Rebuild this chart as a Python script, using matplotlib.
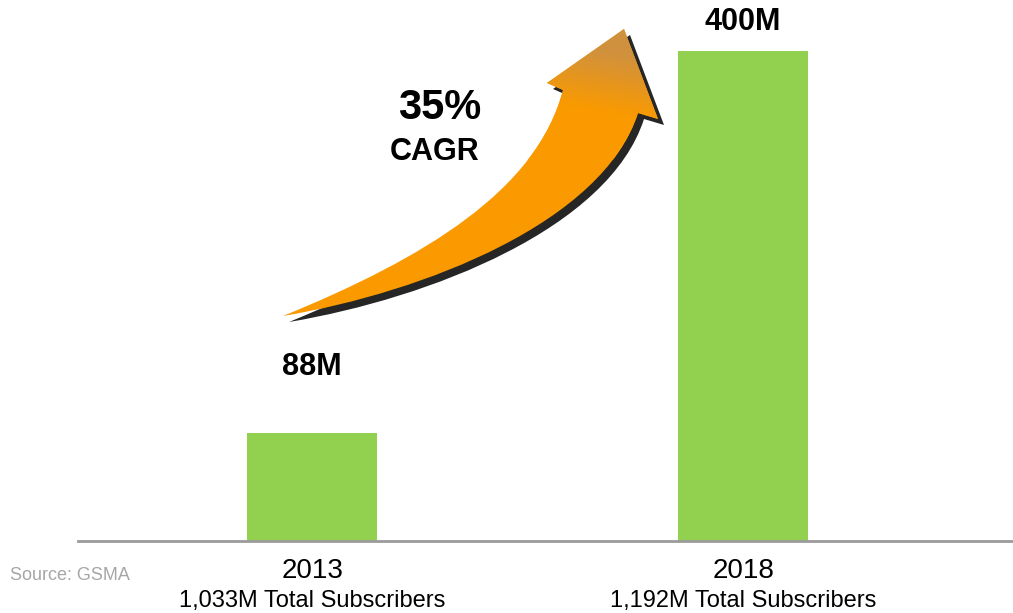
import numpy as np
import matplotlib
matplotlib.use("Agg")
import matplotlib.pyplot as plt
from matplotlib.path import Path
from matplotlib.patches import PathPatch
from matplotlib.colors import LinearSegmentedColormap

plt.rcParams['font.family'] = ['Liberation Sans', 'DejaVu Sans']

years = ["2013", "2018"]
subs_m = [88, 400]  # M2M connections, millions
value_labels = ["88M", "400M"]
total_labels = ["1,033M Total Subscribers", "1,192M Total Subscribers"]
cagr_text = "35%"

# label lift above each bar top, in points
label_lift = [48, 21]

W, H = 1013, 613
fig = plt.figure(figsize=(W / 100, H / 100), dpi=100)

# bar panel: baseline at y=541px, right edge of figure
ax = fig.add_axes([78 / W, 1 - 541 / H, 1 - 78 / W, 541 / H])
x = np.arange(len(years))
ax.bar(x, subs_m, width=0.302, color="#92D050", zorder=2)
ax.set_xlim(-0.543, 1.626)
ax.set_ylim(0, 400 * 541 / 490)
for s in ["top", "right", "left"]:
    ax.spines[s].set_visible(False)
ax.spines["bottom"].set_color("#9a9a9a")
ax.spines["bottom"].set_linewidth(2)
ax.set_yticks([])
ax.set_xticks(x)
ax.set_xticklabels(years, fontsize=20)
ax.tick_params(axis="x", length=0, pad=12)

for xi, v, lab, tot, lift in zip(x, subs_m, value_labels, total_labels, label_lift):
    ax.annotate(lab, (xi, v), xytext=(0, lift), textcoords="offset points",
                ha="center", va="center", fontsize=22, fontweight="bold")
    ax.annotate(tot, (xi, 0), xytext=(0, -43), textcoords="offset points",
                ha="center", va="center", fontsize=17)

# overlay in pixel coordinates for the arrow and notes
ov = fig.add_axes([0, 0, 1, 1], zorder=3)
ov.set_xlim(0, W)
ov.set_ylim(H, 0)
ov.axis("off")
ov.patch.set_alpha(0)

def arrow_path(dx=0, dy=0):
    pts = [
        (283, 316),                                # tail
        (425, 258), (537, 190), (563, 90),         # upper edge
        (547, 83),                                 # left barb
        (624, 29),                                 # tip
        (658, 119),                                # right barb
        (638, 113),                                # right notch
        (603, 222), (425, 292), (283, 316),        # lower edge
        (283, 316),
    ]
    codes = [Path.MOVETO,
             Path.CURVE4, Path.CURVE4, Path.CURVE4,
             Path.LINETO, Path.LINETO, Path.LINETO, Path.LINETO,
             Path.CURVE4, Path.CURVE4, Path.CURVE4,
             Path.CLOSEPOLY]
    return Path([(px + dx, py + dy) for px, py in pts], codes)

shadow = PathPatch(arrow_path(6, 6), facecolor="#262626", edgecolor="none", zorder=0.5)
ov.add_patch(shadow)
fill = PathPatch(arrow_path(), facecolor="#FA9A00", edgecolor="none", zorder=0.9)
ov.add_patch(fill)

# tan tint on the head fading into the orange body
gx, gy = np.meshgrid(np.linspace(0, 1, 200), np.linspace(0, 1, 200))
grad = np.clip((gy * 0.8 - gx * 0.2 - 0.05) / 0.35, 0, 1)
cmap = LinearSegmentedColormap.from_list("arr", ["#D0913E", "#FA9A00"])
im = ov.imshow(grad, cmap=cmap, extent=(480, 680, 160, 20), origin="upper",
               aspect="auto", zorder=1.5)
body = PathPatch(arrow_path(), facecolor="none", edgecolor="none")
ov.add_patch(body)
im.set_clip_path(body)

ov.text(440, 108, cagr_text, ha="center", va="center", fontsize=30, fontweight="bold")
ov.text(435, 152, "CAGR", ha="center", va="center", fontsize=22, fontweight="bold")
ov.text(10, 575, "Source: GSMA", ha="left", va="center", fontsize=13, color="#a6a6a6")

fig.savefig("out.png", dpi=100)
